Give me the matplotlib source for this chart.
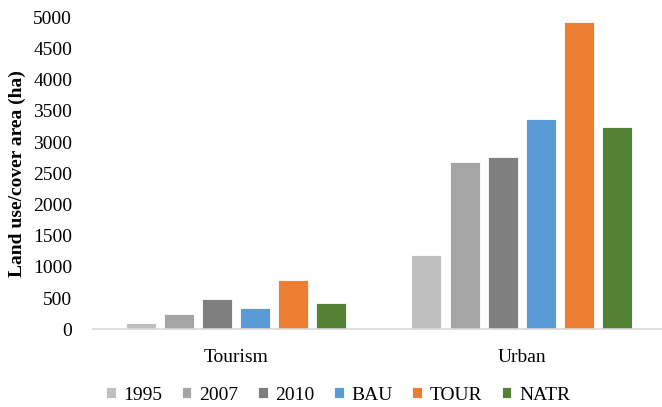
import numpy as np
import matplotlib
matplotlib.use("Agg")
import matplotlib.pyplot as plt

categories = ["Tourism", "Urban"]
series_names = ["1995", "2007", "2010", "BAU", "TOUR", "NATR"]
v1995 = [100, 1190]
v2007 = [250, 2680]
v2010 = [485, 2755]
vBAU = [345, 3370]
vTOUR = [795, 4920]
vNATR = [415, 3250]
y_ticks = [0, 500, 1000, 1500, 2000, 2500, 3000, 3500, 4000, 4500, 5000]

series_values = [v1995, v2007, v2010, vBAU, vTOUR, vNATR]
colors = ["#BFBFBF", "#A5A5A5", "#7F7F7F", "#5B9BD5", "#ED7D31", "#548235"]

plt.rcParams["font.family"] = ["Liberation Serif", "DejaVu Serif"]

W, H = 662, 407
fig = plt.figure(figsize=(W / 100, H / 100), dpi=100)
left, right, bottom, top = 93, 662, 407 - 329.3, 407 - 17.3
ax = fig.add_axes([left / W, bottom / H, (right - left) / W, (top - bottom) / H])

x = np.arange(len(categories))
step = 0.1335
width = 0.105
for i, (name, vals, c) in enumerate(zip(series_names, series_values, colors)):
    ax.bar(x + (i - 2.5) * step, vals, width, color=c, label=name,
           edgecolor="white", linewidth=0.6, zorder=2)

ax.set_xlim(-0.5, 1.49)
ax.set_ylim(0, 5000)
ax.set_yticks(y_ticks)
ax.set_yticklabels([str(t) for t in y_ticks], fontsize=14)
ax.set_xticks(x)
ax.set_xticklabels(categories, fontsize=14)
ax.tick_params(axis="y", length=0, pad=15)
ax.tick_params(axis="x", length=0, pad=14)

for s in ["top", "right", "left"]:
    ax.spines[s].set_visible(False)
ax.spines["bottom"].set_color("#D9D9D9")
ax.spines["bottom"].set_linewidth(1.2)

ax.set_ylabel("Land use/cover area (ha)", fontsize=14, fontweight="bold")
ax.yaxis.set_label_coords(-(93 - 26) / (right - left), 0.5)

leg = fig.legend(loc="center", bbox_to_anchor=(338 / W, 1 - 395 / H), ncol=6,
                 frameon=False, fontsize=14, handlelength=0.5, handleheight=0.55,
                 handletextpad=0.4, columnspacing=1.0)

fig.savefig("out.png", dpi=100)
